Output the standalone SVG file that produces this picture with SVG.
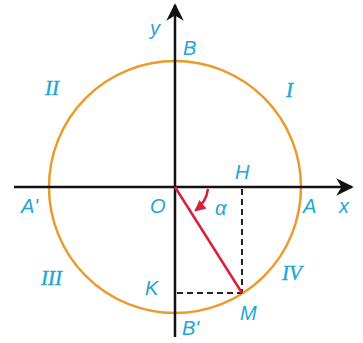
<svg xmlns="http://www.w3.org/2000/svg" width="363" height="343" viewBox="0 0 363 343">
<style>
.lbl{font-family:"Liberation Sans",Arial,sans-serif;font-style:italic;font-size:20px;fill:#1ea6d4}
.rom{font-family:"Liberation Serif","Times New Roman",serif;font-style:italic;font-size:21px;fill:#1ea6d4;stroke:#1ea6d4;stroke-width:0.4}
.axis{stroke:#111;stroke-width:2.5;fill:none}
.dash{stroke:#222;stroke-width:2;stroke-dasharray:6,4;fill:none}
</style>
<defs>
<marker id="ah" viewBox="0 0 10 10" refX="9" refY="5" markerWidth="7" markerHeight="7" orient="auto" markerUnits="strokeWidth">
<path d="M0,0 L10,5 L0,10 L3,5 Z" fill="#111"/>
</marker>
<marker id="rh" viewBox="0 0 10 10" refX="8" refY="5" markerWidth="4.5" markerHeight="4.5" orient="auto" markerUnits="strokeWidth">
<path d="M0,0 L10,5 L0,10 Z" fill="#d8203a"/>
</marker>
</defs>
<rect width="363" height="343" fill="#fff"/>
<g id="circle"><circle cx="175" cy="187" r="126" fill="none" stroke="#eb9a2c" stroke-width="2.5"/></g>
<g id="connectors">
<line class="axis" x1="14" y1="187" x2="352" y2="187" marker-end="url(#ah)"/>
<line class="axis" x1="175" y1="337" x2="175" y2="5" marker-end="url(#ah)"/>
<line class="dash" x1="242" y1="189" x2="242" y2="293"/>
<line class="dash" x1="177" y1="293" x2="242" y2="293"/>
<line x1="175" y1="187" x2="242" y2="293" stroke="#d8203a" stroke-width="2.5"/>
<path d="M208,189 A33,33 0 0 1 196,210" fill="none" stroke="#d8203a" stroke-width="2.5" marker-end="url(#rh)"/>
</g>
<g id="labels">
<text class="lbl" x="150" y="35">y</text>
<text class="lbl" x="183" y="55">B</text>
<text class="rom" x="45" y="95">II</text>
<text class="rom" x="286" y="97">I</text>
<text class="lbl" x="21" y="213">A'</text>
<text class="lbl" x="150" y="213">O</text>
<text class="lbl" x="235" y="179">H</text>
<text class="lbl" x="303" y="213">A</text>
<text class="lbl" x="339" y="213">x</text>
<text class="lbl" x="215" y="215">α</text>
<text class="rom" x="41" y="285">III</text>
<text class="rom" x="282" y="280">IV</text>
<text class="lbl" x="145" y="295">K</text>
<text class="lbl" x="240" y="320">M</text>
<text class="lbl" x="182" y="335">B'</text>
</g>
</svg>
